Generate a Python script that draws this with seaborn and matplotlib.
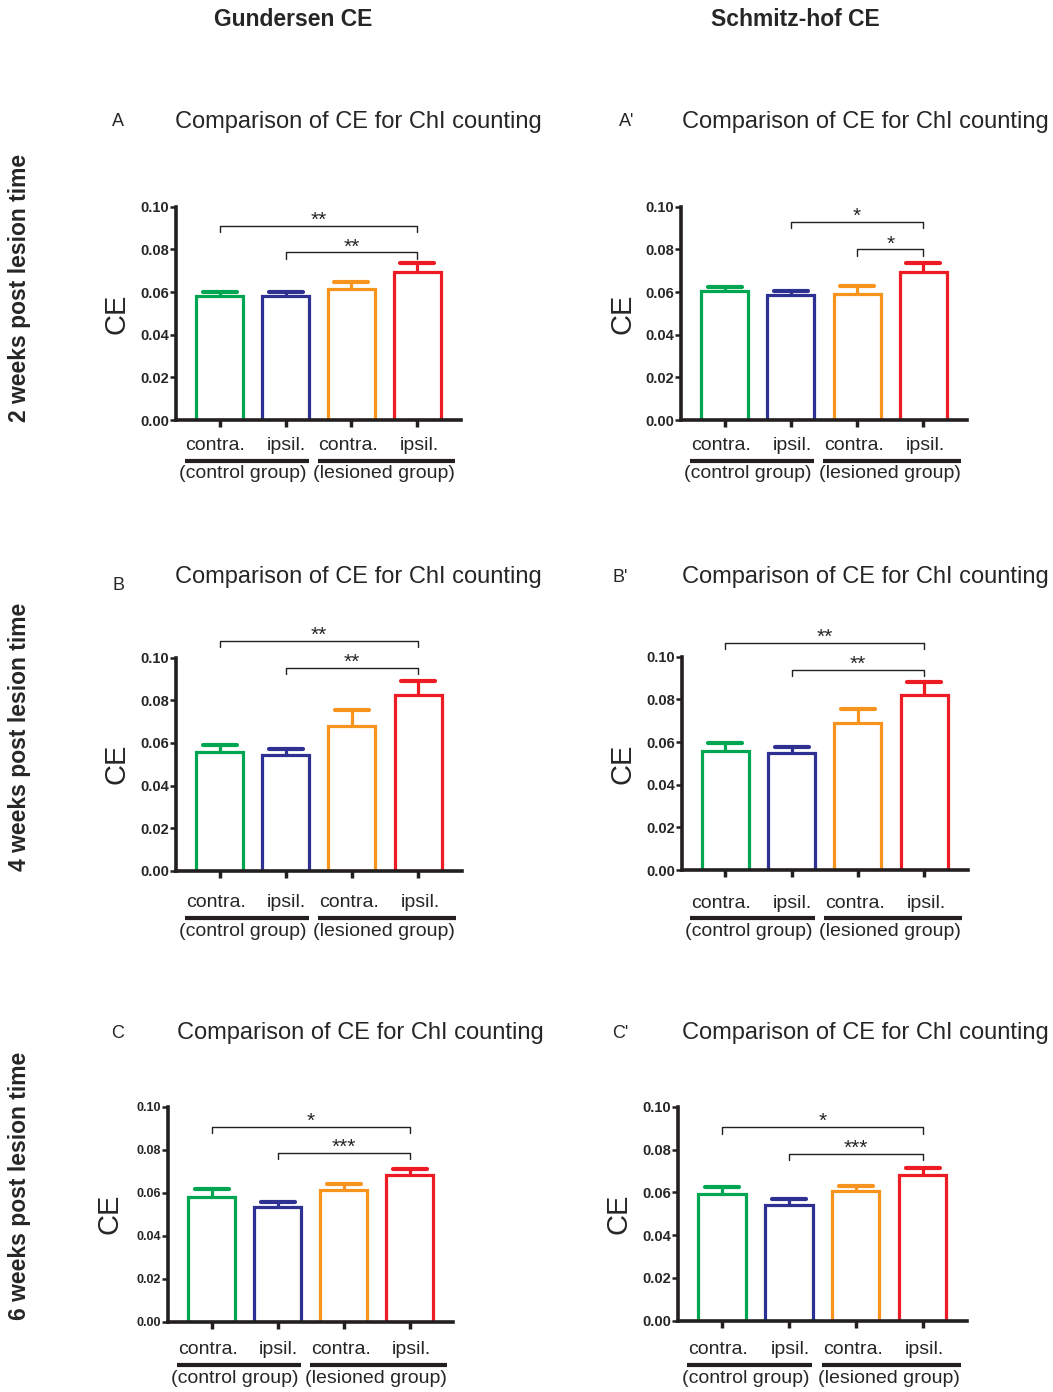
from __future__ import annotations

import matplotlib

matplotlib.use("Agg")
import matplotlib.pyplot as plt
import matplotlib.transforms as mtransforms
from matplotlib.markers import MarkerStyle
import pandas as pd
import seaborn as sns

FIG_W, FIG_H = 1053, 1392

# ---- data ----
CONDITIONS = ["ctl_contra", "ctl_ipsil", "les_contra", "les_ipsil"]
TICK_LABELS = ["contra.", "ipsil.", "contra.", "ipsil."]
GROUP_LABELS = ["(control group)", "(lesioned group)"]
COLORS = ["#00a651", "#2e3192", "#f7941d", "#ed1c24"]

COLUMN_TITLES = ["Gundersen CE", "Schmitz-hof CE"]
ROW_TITLES = ["2 weeks post lesion time", "4 weeks post lesion time", "6 weeks post lesion time"]
PANEL_LETTERS = ["A", "A'", "B", "B'", "C", "C'"]
PANEL_TITLE = "Comparison of CE for ChI counting"
Y_LABEL = "CE"
Y_TICKS = [0.00, 0.02, 0.04, 0.06, 0.08, 0.10]

MEAN_A = [0.0581, 0.0581, 0.0613, 0.0692]
SEM_A = [0.0020, 0.0020, 0.0034, 0.0042]
SIG_A = [(0, 3, 0.0911, "**"), (1, 3, 0.0786, "**")]

MEAN_A2 = [0.0606, 0.0585, 0.0592, 0.0695]
SEM_A2 = [0.0019, 0.0021, 0.0038, 0.0039]
SIG_A2 = [(1, 3, 0.0930, "*"), (2, 3, 0.0800, "*")]

MEAN_B = [0.0556, 0.0545, 0.0679, 0.0825]
SEM_B = [0.0033, 0.0028, 0.0075, 0.0066]
SIG_B = [(0, 3, 0.1080, "**"), (1, 3, 0.0953, "**")]

MEAN_B2 = [0.0558, 0.0547, 0.0688, 0.0819]
SEM_B2 = [0.0036, 0.0030, 0.0068, 0.0064]
SIG_B2 = [(0, 3, 0.1066, "**"), (1, 3, 0.0938, "**")]

MEAN_C = [0.0581, 0.0532, 0.0613, 0.0681]
SEM_C = [0.0038, 0.0025, 0.0026, 0.0031]
SIG_C = [(0, 3, 0.0907, "*"), (1, 3, 0.0786, "***")]

MEAN_C2 = [0.0591, 0.0541, 0.0606, 0.0682]
SEM_C2 = [0.0035, 0.0026, 0.0025, 0.0033]
SIG_C2 = [(0, 3, 0.0904, "*"), (1, 3, 0.0779, "***")]

# ---- layout (pixels: left, y at 0.10, right, y at 0) ----
AXES_PX = [
    (176, 206.7, 461, 420),
    (681, 206.7, 967, 420),
    (176, 657.7, 461.7, 870.7),
    (681.7, 656.7, 967.7, 870),
    (168.3, 1106.7, 453, 1321.7),
    (678, 1106.7, 966.7, 1320.7),
]
# px below the x axis: tick label centre, group underline, group label centre
BELOW_PX = [(25, 41, 54), (25, 41, 54), (32, 47, 61), (33, 48, 62), (28, 43, 57), (29, 44, 58)]
TITLE_PX = [(358, 122), (865, 122), (358, 577), (865, 577), (360, 1033), (865, 1033)]
LETTER_PX = [(118, 122), (627, 122), (118, 585), (620, 577), (118, 1033), (620, 1033)]
YTICK_SIZE = [10.5, 10.5, 10.5, 10.5, 9, 10.5]
LABEL_SHIFT_PX = [-4, 1, -3, 2]

sns.set_theme(style="ticks")
plt.rcParams["font.family"] = ["Liberation Sans", "DejaVu Sans"]
INK = "#231f20"


def px(x: float, y: float) -> tuple[float, float]:
    return x / FIG_W, 1 - y / FIG_H


def draw_panel(fig, box, below, mean, sem, sig, ytick_size):
    left, top, right, bottom = box
    ax = fig.add_axes([left / FIG_W, 1 - bottom / FIG_H, (right - left) / FIG_W, (bottom - top) / FIG_H])
    frame = pd.DataFrame({"condition": CONDITIONS, "ce": mean})
    sns.barplot(
        data=frame,
        x="condition",
        y="ce",
        hue="condition",
        order=CONDITIONS,
        hue_order=CONDITIONS,
        palette=dict(zip(CONDITIONS, COLORS)),
        fill=False,
        linewidth=2.3,
        width=0.71,
        errorbar=None,
        legend=False,
        ax=ax,
    )
    for i, (m, s, c) in enumerate(zip(mean, sem, COLORS)):
        _, caps, _ = ax.errorbar(i, m, yerr=[[0], [s]], fmt="none", ecolor=c,
                                 elinewidth=2.3, capsize=12, capthick=3, zorder=3)
        for cap in caps:
            if abs(cap.get_ydata()[0] - m) < 1e-9:
                cap.set_visible(False)
            else:
                cap.set_marker(MarkerStyle("_", capstyle="round"))

    ax.set_xlim(-0.66, 3.66)
    ax.set_ylim(0, 0.10)
    ax.set_yticks(Y_TICKS)
    ax.set_yticklabels([f"{v:.2f}" for v in Y_TICKS], fontweight="bold", fontsize=ytick_size)
    ax.set_xticks(range(len(CONDITIONS)))
    ax.set_xticklabels([])
    ax.set_xlabel("")
    ax.set_ylabel("")
    ax.tick_params(axis="y", length=4, width=1.8, pad=1, color=INK)
    ax.tick_params(axis="x", length=5, width=2.5, color=INK)
    ax.set_facecolor("white")
    for side in ("top", "right"):
        ax.spines[side].set_visible(False)
    for side in ("left", "bottom"):
        ax.spines[side].set_linewidth(2.6)
        ax.spines[side].set_color(INK)

    height_px = bottom - top
    trans = mtransforms.blended_transform_factory(ax.transData, ax.transAxes)
    tick_y, line_y, text_y = (-b / height_px for b in below)

    # category labels under the bars
    for i, (label, shift) in enumerate(zip(TICK_LABELS, LABEL_SHIFT_PX)):
        ax.text(i + shift / 66, tick_y, label, transform=trans, ha="center", va="center", fontsize=14)

    # group underlines and labels
    for (x0, x1), xc, label in zip([(-0.53, 1.35), (1.49, 3.57)], [0.35, 2.49], GROUP_LABELS):
        ax.plot([x0, x1], [line_y, line_y], color=INK, lw=3, transform=trans,
                clip_on=False, solid_capstyle="butt")
        ax.text(xc, text_y, label, transform=trans, ha="center", va="center", fontsize=14)

    # significance brackets
    for i, j, h, label in sig:
        d = 0.003
        ax.plot([i, i, j, j], [h - d, h, h, h - d], color=INK, lw=1.0, clip_on=False)
        ax.annotate(label, xy=((i + j) / 2, h), xytext=(0, 0), textcoords="offset points",
                    ha="center", va="baseline", fontsize=15, annotation_clip=False)

    fig.text(*px(left - 59, (top + bottom) / 2), Y_LABEL, rotation=90, ha="center",
             va="center", fontsize=21)
    return ax


fig = plt.figure(figsize=(FIG_W / 100, FIG_H / 100), dpi=100)
fig.patch.set_facecolor("white")

panels = [
    (MEAN_A, SEM_A, SIG_A),
    (MEAN_A2, SEM_A2, SIG_A2),
    (MEAN_B, SEM_B, SIG_B),
    (MEAN_B2, SEM_B2, SIG_B2),
    (MEAN_C, SEM_C, SIG_C),
    (MEAN_C2, SEM_C2, SIG_C2),
]
for k, (mean, sem, sig) in enumerate(panels):
    draw_panel(fig, AXES_PX[k], BELOW_PX[k], mean, sem, sig, YTICK_SIZE[k])
    fig.text(*px(*TITLE_PX[k]), PANEL_TITLE, ha="center", va="center", fontsize=17)
    fig.text(*px(*LETTER_PX[k]), PANEL_LETTERS[k], ha="center", va="center", fontsize=13)

for title, (x, y) in zip(COLUMN_TITLES, [(293, 20), (795, 20)]):
    fig.text(*px(x, y), title, ha="center", va="center", fontsize=16.5, fontweight="bold")

for title, y in zip(ROW_TITLES, [288, 737, 1186]):
    fig.text(*px(20, y), title, rotation=90, ha="center", va="center", fontsize=16.5,
             fontweight="bold")

fig.savefig("out.png", dpi=100, facecolor="white")
